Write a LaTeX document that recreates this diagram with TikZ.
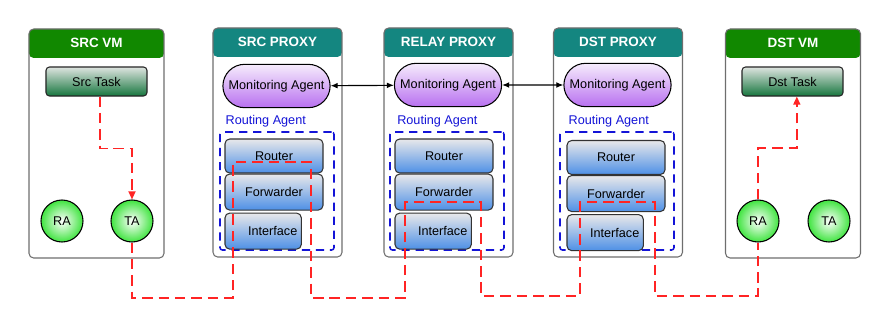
\documentclass[tikz,border=0pt]{standalone}
\usepackage{fontspec}
\setmainfont{Liberation Sans}
\usetikzlibrary{arrows.meta,positioning,shapes.misc}
\definecolor{vmgreen}{RGB}{17,136,0}
\definecolor{pxteal}{RGB}{20,134,128}
\definecolor{framegray}{RGB}{110,110,110}
\definecolor{tasktop}{RGB}{222,228,224}
\definecolor{taskgreen}{RGB}{22,118,62}
\definecolor{matop}{RGB}{246,236,252}
\definecolor{mapurple}{RGB}{184,112,240}
\definecolor{modtop}{RGB}{232,232,234}
\definecolor{modblue}{RGB}{78,144,230}
\definecolor{ballgreen}{RGB}{64,228,64}
\definecolor{flowred}{RGB}{255,36,36}
\definecolor{rablue}{RGB}{20,20,215}
\begin{document}
\begin{tikzpicture}[x=0.03cm, y=-0.03cm, every node/.style={font=\fontsize{10.8}{12}\selectfont}, >=Latex]
\tikzstyle{vmframe}=[draw=framegray, fill=white, rounded corners=4pt, line width=0.9pt, minimum width=4.05cm, minimum height=6.87cm, path picture={\fill[vmgreen] (path picture bounding box.north west) rectangle ([yshift=-0.87cm]path picture bounding box.north east);}]
\tikzstyle{pxframe}=[draw=framegray, fill=white, rounded corners=4pt, line width=0.9pt, minimum width=3.87cm, minimum height=6.87cm, path picture={\fill[pxteal] (path picture bounding box.north west) rectangle ([yshift=-0.87cm]path picture bounding box.north east);}]
\tikzstyle{title}=[text=white, font=\bfseries\fontsize{11.5}{13}\selectfont, minimum height=0.87cm, inner sep=0pt]
\tikzstyle{task}=[draw=black!85, rounded corners=3pt, line width=0.9pt, top color=tasktop, bottom color=taskgreen, minimum width=3.03cm, minimum height=0.87cm]
\tikzstyle{ball}=[circle, draw=black, line width=0.9pt, inner color=white, outer color=ballgreen, minimum size=1.26cm, inner sep=0pt]
\tikzstyle{magent}=[rounded rectangle, draw=black, line width=0.9pt, top color=matop, bottom color=mapurple, minimum width=3.45cm, minimum height=1.3cm]
\tikzstyle{ragent}=[draw=rablue, dashed, dash pattern=on 7pt off 5pt, line width=1.3pt, rounded corners=2pt, minimum width=3.42cm, minimum height=3.54cm]
\tikzstyle{ralabel}=[text=rablue, inner sep=1pt]
\tikzstyle{module}=[draw=black!80, rounded corners=4pt, line width=0.9pt, top color=modtop, bottom color=modblue, minimum width=2.94cm, minimum height=1.08cm]
\tikzstyle{iface}=[module, minimum width=0pt, text width=2.05cm, align=right, inner xsep=0.12cm]
\tikzstyle{flow}=[draw=flowred, line width=1.4pt, dash pattern=on 9pt off 5pt]
\tikzstyle{ctrl}=[{Latex[length=6pt,width=5pt]}-{Latex[length=6pt,width=5pt]}, line width=1pt]
\useasboundingbox (0,0) rectangle (889,329);
% source VM
\node[vmframe] (srcvm) at (96.5,143.5) {};
\node[title, below=0pt of srcvm.north] (srcvmt) {SRC VM};
\node[task] (stask) at (96.5,81.5) {Src Task};
\node[ball] (sra) at (62,221) {RA};
\node[ball] (sta) at (132,221) {TA};
% source proxy
\node[pxframe] (srcpx) at (277.5,142.5) {};
\node[title, below=0pt of srcpx.north] (srcpxt) {SRC PROXY};
\node[magent] (sma) at (276.5,86) {Monitoring Agent};
\node[ragent] (sroute) at (277,191) {};
\node[ralabel, above right=0.07cm and 0.15cm of sroute.north west] (sral) {Routing Agent};
\node[module, minimum height=1.02cm] (srouter) at (274,156) {Router};
\node[module, below=0pt of srouter] (sfwd) {Forwarder};
\node[iface, below=0.06cm of sfwd.south west, anchor=north west] (siface) {Interface};
% relay proxy
\node[pxframe] (relpx) at (448.5,142.5) {};
\node[title, below=0pt of relpx.north] (relpxt) {RELAY PROXY};
\node[magent] (rma) at (448,85) {Monitoring Agent};
\node[ragent] (rroute) at (447,191) {};
\node[ralabel, above right=0.07cm and 0.2cm of rroute.north west] (rral) {Routing Agent};
\node[module, minimum height=1.02cm] (rrouter) at (444,156) {Router};
\node[module, below=0pt of rrouter] (rfwd) {Forwarder};
\node[iface, below=0.06cm of rfwd.south west, anchor=north west] (riface) {Interface};
% destination proxy
\node[pxframe] (dstpx) at (618,142.5) {};
\node[title, below=0pt of dstpx.north] (dstpxt) {DST PROXY};
\node[magent] (dma) at (617.5,85) {Monitoring Agent};
\node[ragent] (droute) at (617,191) {};
\node[ralabel, above right=0.07cm and 0.24cm of droute.north west] (dral) {Routing Agent};
\node[module, minimum height=1.02cm] (drouter) at (616,157.5) {Router};
\node[module, below=0pt of drouter] (dfwd) {Forwarder};
\node[iface, below=0.06cm of dfwd.south west, anchor=north west] (diface) {Interface};
% destination VM
\node[vmframe] (dstvm) at (793,143.5) {};
\node[title, below=0pt of dstvm.north] (dstvmt) {DST VM};
\node[task] (dtask) at (792.5,81.5) {Dst Task};
\node[ball] (dra) at (758,221) {RA};
\node[ball] (dta) at (829,221) {TA};
% monitoring links
\draw[ctrl] (sma) -- (rma);
\draw[ctrl] (rma) -- (dma);
% data path
\draw[flow, -{Triangle[length=7pt, width=6pt]}] ([xshift=0.1cm]stask.south) -- ++(0,52) -| (sta);
\draw[flow] (sta) -- (132,298) -| (233,162) -| (311,298) -| (405,202) -| (481,296) -| (580,202) -| (655,296) -| (dra);
\draw[flow, -{Triangle[length=7pt, width=6pt]}] (dra) -- (758,148) -| ([xshift=0.13cm]dtask.south);
\end{tikzpicture}
\end{document}
